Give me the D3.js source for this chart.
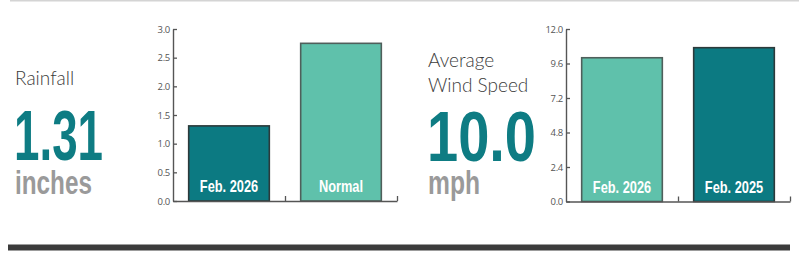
<!DOCTYPE html>
<html>
<head>
<meta charset="utf-8">
<script src="https://cdn.jsdelivr.net/npm/d3@7/dist/d3.min.js"></script>
<style>
  html, body { margin: 0; padding: 0; background: #fff; }
  svg { display: block; }
</style>
</head>
<body>
<svg id="chart" width="799" height="253"></svg>
<script>
// ---- data ----
const rainCategories = ["Feb. 2026", "Normal"];
const rainValues = [1.31, 2.75];
const rainTicks = [0, 0.5, 1.0, 1.5, 2.0, 2.5, 3.0];
const rainBig = "1.31";
const rainTitle = ["Rainfall"];
const rainUnit = "inches";

const windCategories = ["Feb. 2026", "Feb. 2025"];
const windValues = [10.0, 10.7];
const windTicks = [0, 2.4, 4.8, 7.2, 9.6, 12.0];
const windBig = "10.0";
const windTitle = ["Average", "Wind Speed"];
const windUnit = "mph";

const dark = "#0c7a82", light = "#5fc1ab";
const svg = d3.select("#chart");
const boldFont = "'Liberation Sans Narrow', 'Liberation Sans', Arial, sans-serif";

// horizontally condense a text element to a given width (anchor-aware)
function condense(sel, x, y, width, anchor) {
  sel.each(function () {
    const t = d3.select(this).attr("x", 0).attr("y", 0);
    const w = this.getComputedTextLength();
    const s = width ? width / w : 0.8;
    t.attr("text-anchor", anchor || "start")
     .attr("transform", `translate(${x},${y}) scale(${s},1)`);
  });
}

// frame lines
svg.append("rect").attr("x", 10).attr("y", 0).attr("width", 789).attr("height", 1.5).attr("fill", "#d4d4d4");
svg.append("rect").attr("x", 8).attr("y", 244.5).attr("width", 782).attr("height", 6).attr("fill", "#3b3b3b");

function panel(opts) {
  const g = svg.append("g");
  // text block
  opts.title.forEach((t, i) => {
    g.append("text").attr("x", opts.tx).attr("y", opts.titleY + i * 25)
      .attr("font-family", "Lato, 'Open Sans', sans-serif").attr("font-weight", 300)
      .attr("font-size", 19).attr("fill", "#3c3c3c").text(t);
  });
  g.append("text")
    .attr("font-family", boldFont).attr("font-weight", 700)
    .attr("font-size", 70).attr("fill", "#0e7c83")
    .text(opts.big)
    .call(condense, opts.tx - 1, opts.bigY, opts.bigW);
  g.append("text")
    .attr("font-family", boldFont).attr("font-weight", 700)
    .attr("font-size", 34).attr("fill", "#9a9a9a")
    .text(opts.unit)
    .call(condense, opts.tx, opts.unitY, opts.unitW);

  const x = d3.scaleBand().domain(opts.cats).range([opts.x0, opts.x1]).padding(0);
  const y = d3.scaleLinear().domain([0, opts.max]).range([opts.y0, opts.y1]);
  const bw = x.bandwidth() * 0.72;

  // bars
  g.selectAll("rect.bar").data(opts.cats).join("rect").attr("class", "bar")
    .attr("x", d => x(d) + (x.bandwidth() - bw) / 2)
    .attr("y", (d, i) => y(opts.vals[i]))
    .attr("width", bw)
    .attr("height", (d, i) => y(0) - y(opts.vals[i]))
    .attr("fill", (d, i) => opts.colors[i])
    .attr("stroke", (d, i) => opts.colors[i] === dark ? "#2c3a3b" : "#4f5f5b")
    .attr("stroke-width", 1.6);
  g.selectAll("text.lbl").data(opts.cats).join("text").attr("class", "lbl")
    .attr("font-family", boldFont).attr("font-weight", 700)
    .attr("font-size", 16).attr("fill", "#fff")
    .text(d => d)
    .each(function (d) {
      d3.select(this).call(condense, x(d) + x.bandwidth() / 2, y(0) - 9, null, "middle");
    });

  // y axis
  const ya = g.append("g").attr("transform", `translate(${opts.x0},0)`)
    .call(d3.axisLeft(y).tickValues(opts.ticks).tickSize(-4).tickSizeOuter(0).tickPadding(3).tickFormat(d3.format(".1f")));
  ya.select(".domain").attr("stroke", "#555").attr("stroke-width", 1.4);
  ya.selectAll(".tick line").attr("stroke", "#555").attr("stroke-width", 1.3);
  ya.selectAll(".tick text").attr("font-family", "'Open Sans', 'DejaVu Sans', sans-serif")
    .attr("font-size", 9.5).attr("fill", "#555").attr("letter-spacing", -0.3);

  // x axis (ticks at band boundaries)
  const xb = d3.scaleLinear().domain([0, opts.cats.length]).range([opts.x0, opts.x1]);
  const xa = g.append("g").attr("transform", `translate(0,${y(0)})`)
    .call(d3.axisBottom(xb).tickValues(d3.range(1, opts.cats.length + 1)).tickSize(-5).tickSizeOuter(0).tickFormat(""));
  xa.select(".domain").attr("stroke", "#555").attr("stroke-width", 1.4);
  xa.selectAll(".tick line").attr("stroke", "#555").attr("stroke-width", 1.3);
}

panel({
  title: rainTitle, titleY: 85, tx: 15, big: rainBig, bigY: 160, bigW: 89,
  unit: rainUnit, unitY: 194, unitW: 77,
  cats: rainCategories, vals: rainValues, ticks: rainTicks, max: 3,
  colors: [dark, light], x0: 173, x1: 397, y0: 201, y1: 29
});
panel({
  title: windTitle, titleY: 67, tx: 428, big: windBig, bigY: 161, bigW: 109,
  unit: windUnit, unitY: 194, unitW: 52,
  cats: windCategories, vals: windValues, ticks: windTicks, max: 12,
  colors: [light, dark], x0: 566, x1: 790, y0: 201.5, y1: 29
});
</script>
</body>
</html>
